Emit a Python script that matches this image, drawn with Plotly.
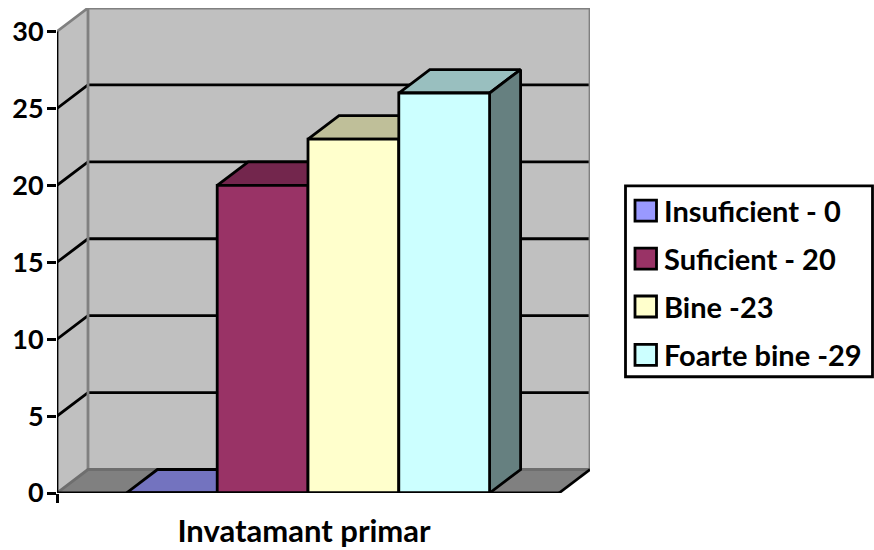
import plotly.graph_objects as go

# ---- data ----
category = "Invatamant primar"
series_names = ["Insuficient - 0", "Suficient - 20", "Bine -23", "Foarte bine -29"]
series_values = [0, 20, 23, 26]
front_colors = ["#9999FF", "#993366", "#FFFFCC", "#CCFFFF"]
top_colors = ["#7373BF", "#73264D", "#BFBF99", "#99BFBF"]
side_colors = ["#4D4D80", "#4D1A33", "#808066", "#668080"]
y_ticks = [0, 5, 10, 15, 20, 25, 30]

# ---- chart geometry (axis units: one bar width / one value unit) ----
W, H = 874, 550
L, R, T, B = 57, 590, 8, 493.3
BAR_PX = 90.8
PX_PER_VAL = (B - 31.5) / 30
DX = 31 / BAR_PX
DY = 23.5 / PX_PER_VAL
XMAX = (R - L) / BAR_PX
FLOOR = XMAX - DX
START = (FLOOR - len(series_values)) / 2
YMAX = max(y_ticks) + DY
WALL = "#C0C0C0"
EDGE = "#808080"
FONT = "Lato"
LW = 2.8

fig = go.Figure()


def poly(xs, ys, fill, line=None, lw=LW, closed=True):
    if closed:
        xs = list(xs) + [xs[0]]
        ys = list(ys) + [ys[0]]
    fig.add_trace(go.Scatter(
        x=xs, y=ys, mode="lines", fill="toself" if fill else "none", fillcolor=fill,
        line=dict(color=line or "rgba(0,0,0,0)", width=lw, simplify=False),
        showlegend=False, hoverinfo="skip", cliponaxis=False))


# walls and floor
poly([DX, XMAX, XMAX, DX], [DY, DY, YMAX, YMAX], WALL)
poly([0, DX, DX, 0], [0, DY, YMAX, max(y_ticks)], WALL)
poly([0, FLOOR, XMAX, DX], [0, 0, DY, DY], EDGE)

# gridlines on the side and back walls
for v in y_ticks[1:-1]:
    poly([0, DX, XMAX], [v, v + DY, v + DY], None, "#000000", closed=False)

# wall edges
poly([0, DX, DX], [max(y_ticks), YMAX, DY], None, EDGE, closed=False)
poly([DX, XMAX, XMAX], [YMAX, YMAX, DY], None, EDGE, closed=False)
poly([0, DX, XMAX], [0, DY, DY], None, "#6E6E6E", closed=False)
poly([FLOOR, XMAX], [0, DY], None, "#000000", closed=False)

# depth faces of the bars
for i, v in enumerate(series_values):
    x0, x1 = START + i, START + i + 1
    poly([x0, x1, x1 + DX, x0 + DX], [v, v, v + DY, v + DY], top_colors[i], "#000000")
    poly([x1, x1 + DX, x1 + DX, x1], [0, DY, v + DY, v], side_colors[i], "#000000")

# front faces of the bars, on an overlay so they hide the neighbouring depth faces
for i, v in enumerate(series_values):
    fig.add_trace(go.Bar(
        x=[START + i + 0.5], y=[v], width=[1], name=series_names[i],
        marker=dict(color=front_colors[i], line=dict(color="#000000", width=LW)),
        xaxis="x2", yaxis="y2", showlegend=False, cliponaxis=False,
        hovertemplate=series_names[i] + "<extra></extra>"))

# axis lines
fig.add_trace(go.Scatter(x=[0, 0], y=[0, max(y_ticks)], mode="lines",
                         line=dict(color="#000000", width=LW), xaxis="x2", yaxis="y2",
                         showlegend=False, hoverinfo="skip", cliponaxis=False))
fig.add_trace(go.Scatter(x=[0, FLOOR], y=[0, 0], mode="lines",
                         line=dict(color="#000000", width=LW), xaxis="x2", yaxis="y2",
                         showlegend=False, hoverinfo="skip", cliponaxis=False))

tick_font = dict(family=FONT, size=27, color="#000000", weight="bold")
legend_font = dict(family=FONT, size=29, color="#000000", weight="bold")
title_font = dict(family=FONT, size=31, color="#000000", weight="bold")
fig.update_layout(
    width=W, height=H, autosize=False, margin=dict(l=L, r=W - R, t=T, b=H - B, pad=0, autoexpand=False),
    paper_bgcolor="#FFFFFF", plot_bgcolor="#FFFFFF", barmode="overlay", showlegend=False,
    xaxis=dict(range=[0, XMAX], showgrid=False, zeroline=False, showline=False, automargin=False,
               tickmode="array", tickvals=[0], ticktext=[""], ticks="outside", ticklen=9,
               tickwidth=LW, tickcolor="#000000"),
    yaxis=dict(range=[0, YMAX], showgrid=False, zeroline=False, showline=False, automargin=False,
               tickmode="array", tickvals=y_ticks, ticks="outside", ticklen=9, tickwidth=LW,
               tickcolor="#000000", tickfont=tick_font, ticklabelstandoff=-2),
    xaxis2=dict(range=[0, XMAX], overlaying="x", anchor="y2", showgrid=False, zeroline=False,
                showline=False, automargin=False, tickmode="array", tickvals=[(247 / BAR_PX)],
                ticktext=[category], ticks="outside", ticklen=11,
                tickcolor="rgba(0,0,0,0)", tickfont=title_font),
    yaxis2=dict(range=[0, YMAX], overlaying="y", anchor="x2", visible=False, automargin=False),
)

# legend box
def px(x):
    return (x - L) / (R - L)


def py(y):
    return (B - y) / (B - T)


fig.add_shape(type="rect", xref="paper", yref="paper", x0=px(625.5), x1=px(872.5), y0=py(186),
              y1=py(377), line=dict(color="#000000", width=LW), fillcolor="#FFFFFF")
legend_y = [210.7, 258.7, 306.7, 355]
for name, color, y in zip(series_names, front_colors, legend_y):
    fig.add_shape(type="rect", xref="paper", yref="paper", x0=px(635), x1=px(656.5),
                  y0=py(y - 10.5), y1=py(y + 10.5), fillcolor=color,
                  line=dict(color="#000000", width=LW))
    fig.add_annotation(xref="paper", yref="paper", x=px(662), y=py(y), text=name,
                       showarrow=False, xanchor="left", yanchor="middle", font=legend_font)

fig.write_html("out.html", config=dict(displayModeBar=False),
               post_script="document.body.style.margin='0';document.documentElement.style.overflow='hidden';")
